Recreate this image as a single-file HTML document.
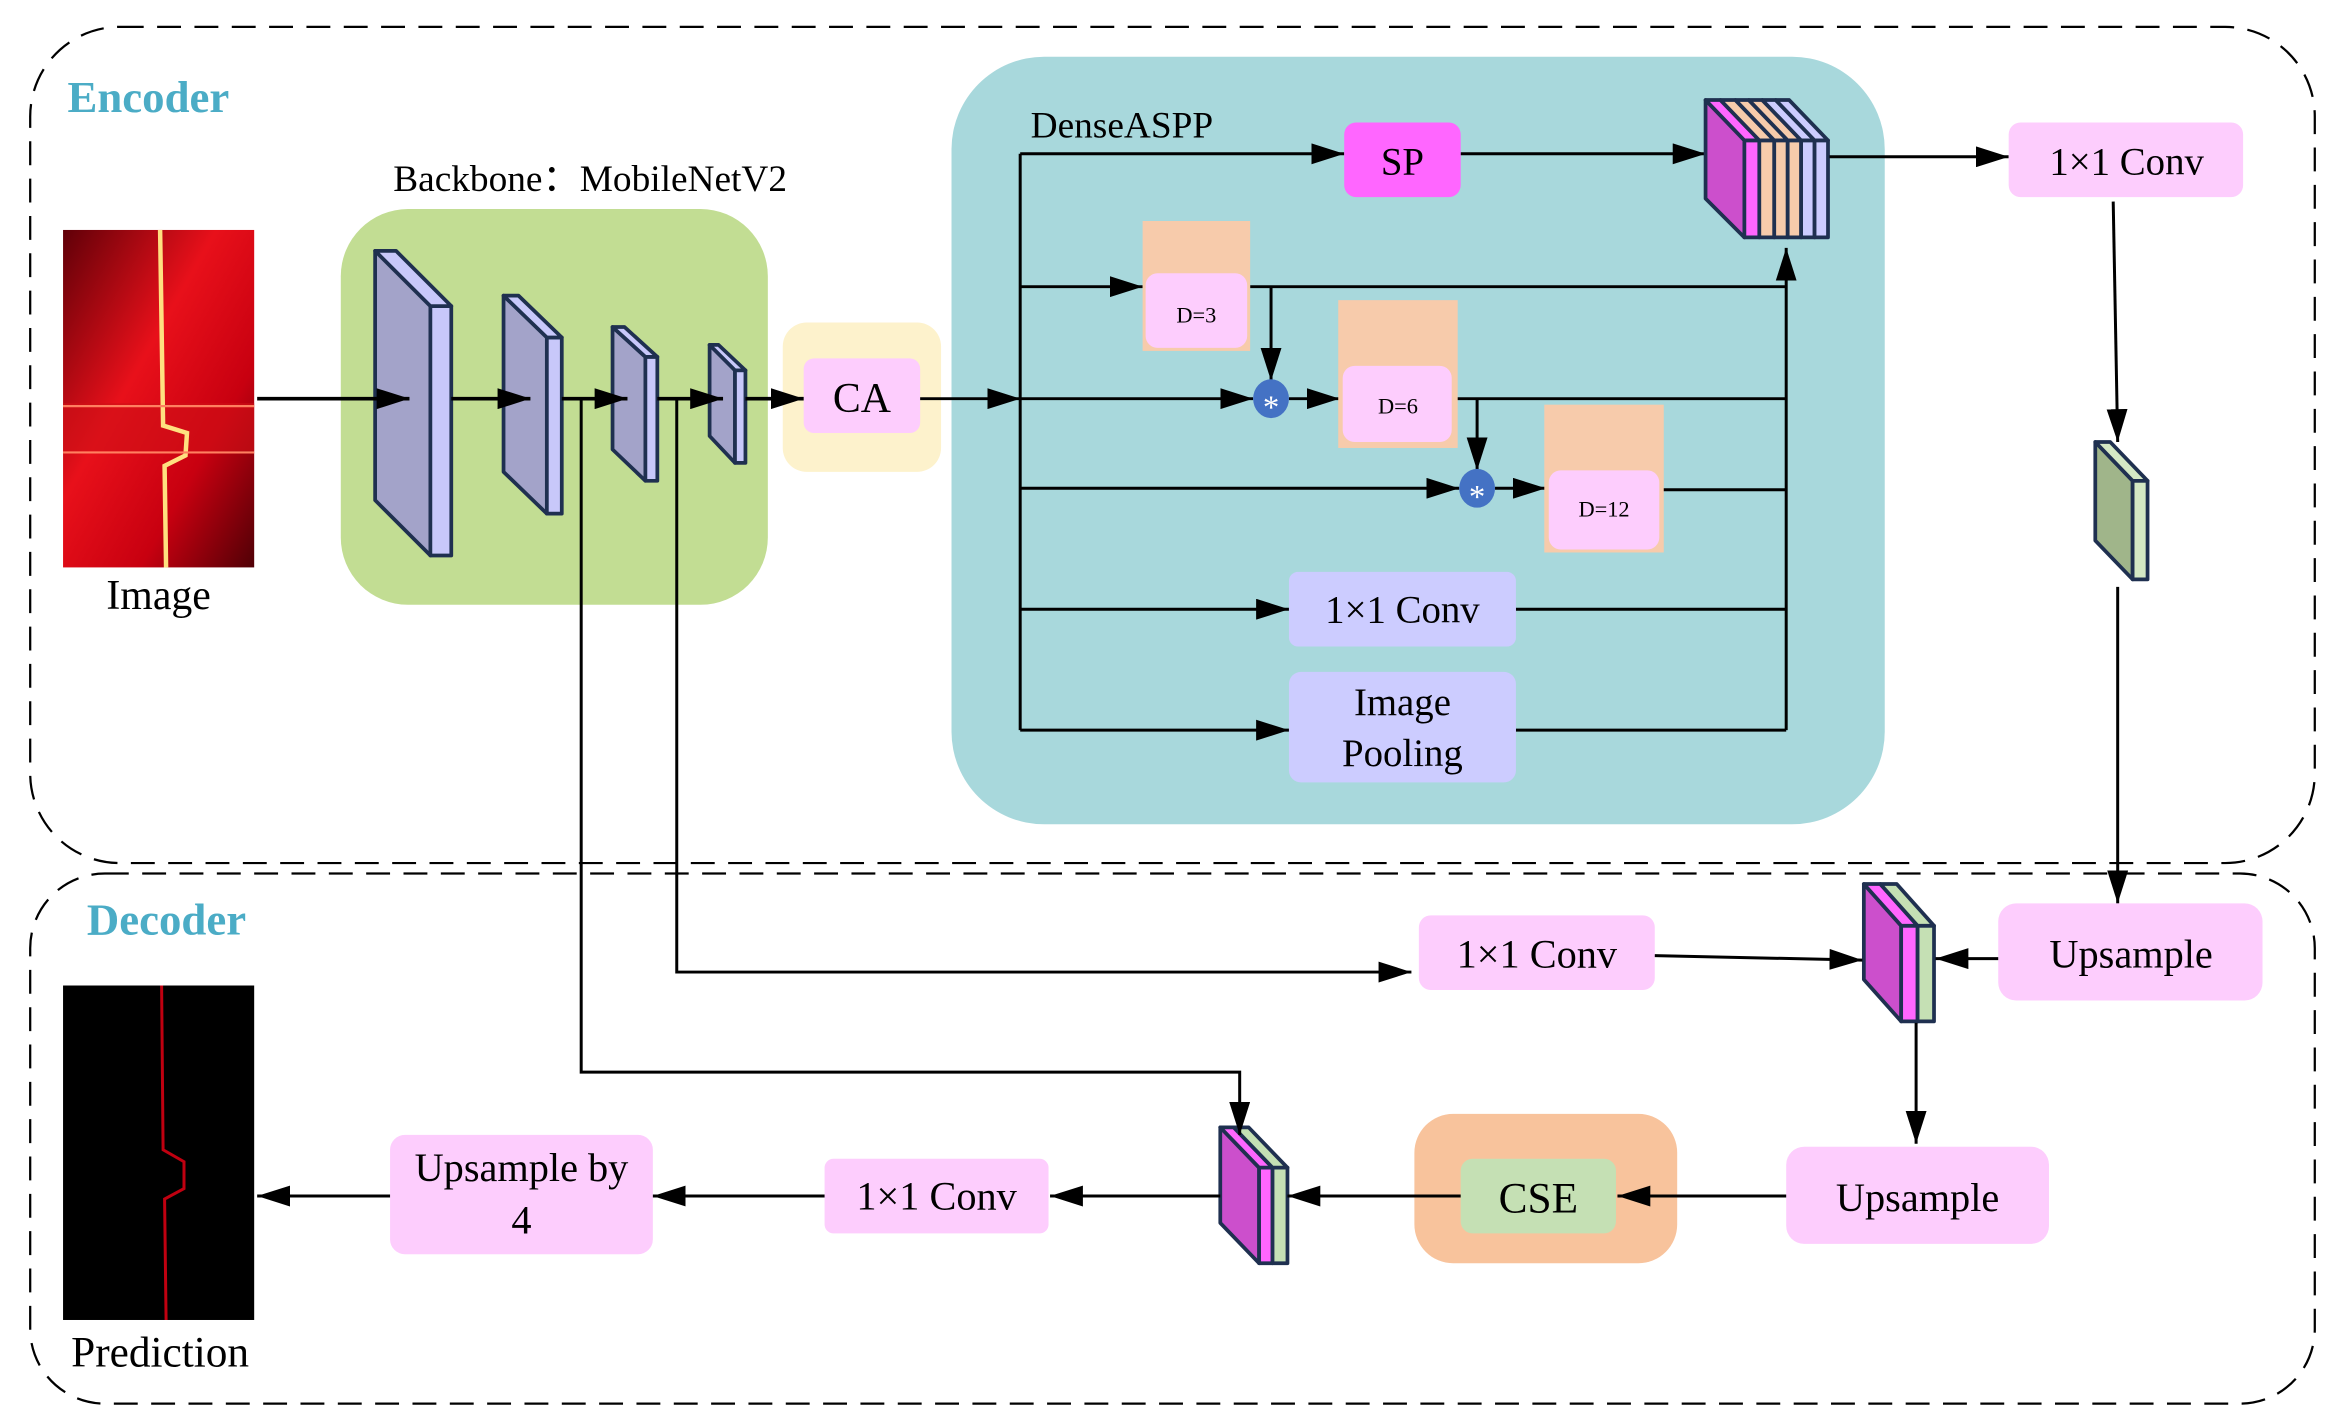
<!DOCTYPE html>
<html><head><meta charset="utf-8"><style>html,body{margin:0;padding:0;background:#fff}svg{display:block}</style></head>
<body>
<svg width="2342" height="1426" viewBox="0 0 1568 955" xmlns="http://www.w3.org/2000/svg" font-family="Liberation Serif, serif">
<defs>
<marker id="b" viewBox="0 0 10 10" refX="10" refY="5" markerWidth="22" markerHeight="14" orient="auto" markerUnits="userSpaceOnUse" preserveAspectRatio="none"><path d="M0,0L10,5L0,10z"/></marker>
<linearGradient id="rg" x1="0" y1="0" x2="1" y2="1"><stop offset="0" stop-color="#600008"/><stop offset=".4" stop-color="#e8101a"/><stop offset=".7" stop-color="#c80010"/><stop offset="1" stop-color="#500006"/></linearGradient>
</defs>
<rect x="20" y="18" width="1530" height="560" rx="60" fill="none" stroke="#000" stroke-width="1.5" stroke-dasharray="16,9"/>
<rect x="20" y="585" width="1530" height="355" rx="50" fill="none" stroke="#000" stroke-width="1.5" stroke-dasharray="16,9"/>
<text x="45" y="75" font-size="30" font-weight="bold" fill="#4bacc6">Encoder</text>
<text x="58" y="626" font-size="30" font-weight="bold" fill="#4bacc6">Decoder</text>

<rect x="42" y="154" width="128" height="226" fill="url(#rg)"/>
<rect x="42" y="270" width="128" height="32" fill="#d01018" opacity=".6"/>
<path d="M107,154 L109,285 L125,290 L124,305 L110,312 L111,380" stroke="#ffe080" stroke-width="3" fill="none"/>
<path d="M42,272 H170 M42,303 H170" stroke="#ff8060" stroke-width="1.5"/>
<text x="106" y="408" font-size="28" text-anchor="middle">Image</text>

<text x="395" y="128" font-size="25" text-anchor="middle">Backbone：MobileNetV2</text>
<rect x="228" y="140" width="286" height="265" rx="45" fill="#c2dd93"/>
<g stroke="#1f3050" stroke-width="2.5" stroke-linejoin="round">
<path d="M251,168 L288,205 L288,372 L251,335Z" fill="#a3a3c9"/><path d="M288,205H302V372H288Z" fill="#c8c8fa"/><path d="M251,168H265L302,205H288Z" fill="#c8c8fa"/>
<path d="M337,198 L366,226 L366,344 L337,316Z" fill="#a3a3c9"/><path d="M366,226H376V344H366Z" fill="#c8c8fa"/><path d="M337,198H347L376,226H366Z" fill="#c8c8fa"/>
<path d="M410,219 L432,239 L432,322 L410,301Z" fill="#a3a3c9"/><path d="M432,239H440V322H432Z" fill="#c8c8fa"/><path d="M410,219H418L440,239H432Z" fill="#c8c8fa"/>
<path d="M475,231 L492,248 L492,310 L475,292Z" fill="#a3a3c9"/><path d="M492,248H499V310H492Z" fill="#c8c8fa"/><path d="M475,231H481L499,248H492Z" fill="#c8c8fa"/>
</g>
<rect x="524" y="216" width="106" height="100" rx="16" fill="#fdf2cc"/>
<rect x="538" y="240" width="78" height="50" rx="7" fill="#fdcdfd"/>
<text x="577" y="276" font-size="28" text-anchor="middle">CA</text>
<g stroke="#000" stroke-width="2.5" fill="none" marker-end="url(#b)">
<line x1="172" y1="267" x2="274" y2="267"/><line x1="302" y1="267" x2="355" y2="267"/><line x1="376" y1="267" x2="420" y2="267"/><line x1="440" y1="267" x2="484" y2="267"/><line x1="499" y1="267" x2="538" y2="267"/>
</g>

<rect x="637" y="38" width="625" height="514" rx="62" fill="#a8d8dc"/>
<text x="690" y="92" font-size="25">DenseASPP</text>
<g stroke="#000" stroke-width="2" fill="none">
<line x1="616" y1="267" x2="683" y2="267" marker-end="url(#b)"/>
<line x1="683" y1="103" x2="683" y2="489"/>
<line x1="683" y1="103" x2="900" y2="103" marker-end="url(#b)"/>
<line x1="978" y1="103" x2="1142" y2="103" marker-end="url(#b)"/>
<line x1="683" y1="192" x2="765" y2="192" marker-end="url(#b)"/>
<line x1="837" y1="192" x2="1196" y2="192"/>
<line x1="851" y1="192" x2="851" y2="255" marker-end="url(#b)"/>
<line x1="683" y1="267" x2="839" y2="267" marker-end="url(#b)"/>
<line x1="863" y1="267" x2="897" y2="267" marker-end="url(#b)"/>
<line x1="972" y1="267" x2="1196" y2="267"/>
<line x1="989" y1="267" x2="989" y2="315" marker-end="url(#b)"/>
<line x1="683" y1="327" x2="977" y2="327" marker-end="url(#b)"/>
<line x1="1001" y1="327" x2="1035" y2="327" marker-end="url(#b)"/>
<line x1="1111" y1="328" x2="1196" y2="328"/>
<line x1="683" y1="408" x2="863" y2="408" marker-end="url(#b)"/>
<line x1="1015" y1="408" x2="1196" y2="408"/>
<line x1="683" y1="489" x2="863" y2="489" marker-end="url(#b)"/>
<line x1="1015" y1="489" x2="1196" y2="489"/>
<line x1="1196" y1="489" x2="1196" y2="166" marker-end="url(#b)"/>
</g>
<rect x="900" y="82" width="78" height="50" rx="8" fill="#ff66ff"/>
<text x="939" y="117" font-size="26" text-anchor="middle">SP</text>
<rect x="765" y="148" width="72" height="87" fill="#f7cbab"/><rect x="767" y="183" width="68" height="50" rx="8" fill="#fdcdfd"/>
<text x="801" y="216" font-size="15" text-anchor="middle">D=3</text>
<rect x="896" y="201" width="80" height="99" fill="#f7cbab"/><rect x="899" y="245" width="73" height="51" rx="8" fill="#fdcdfd"/>
<text x="936" y="277" font-size="15" text-anchor="middle">D=6</text>
<rect x="1034" y="271" width="80" height="99" fill="#f7cbab"/><rect x="1037" y="315" width="74" height="53" rx="8" fill="#fdcdfd"/>
<text x="1074" y="346" font-size="15" text-anchor="middle">D=12</text>
<g fill="#4472c4"><ellipse cx="851" cy="267" rx="12" ry="13"/><ellipse cx="989" cy="327" rx="12" ry="13"/></g>
<g fill="#fff" font-size="22" text-anchor="middle"><text x="851" y="280">*</text><text x="989" y="340">*</text></g>
<rect x="863" y="383" width="152" height="50" rx="6" fill="#ccccff"/>
<text x="939" y="417" font-size="26" text-anchor="middle">1×1 Conv</text>
<rect x="863" y="450" width="152" height="74" rx="8" fill="#ccccff"/>
<text x="939" y="479" font-size="26" text-anchor="middle">Image</text>
<text x="939" y="513" font-size="26" text-anchor="middle">Pooling</text>

<g stroke="#1f3050" stroke-width="2.5" stroke-linejoin="round">
<path d="M1142,67 L1168,94 L1168,159 L1142,133Z" fill="#cc4fcc"/>
<path d="M1168,94H1178V159H1168Z" fill="#ff66ff"/>
<path d="M1178,94H1188V159H1178Z" fill="#f7cbab"/>
<path d="M1188,94H1197V159H1188Z" fill="#f7cbab"/>
<path d="M1197,94H1206V159H1197Z" fill="#f7cbab"/>
<path d="M1206,94H1215V159H1206Z" fill="#ccccff"/>
<path d="M1215,94H1224V159H1215Z" fill="#ccccff"/>
<path d="M1142,67H1152L1178,94H1168Z" fill="#ff66ff"/>
<path d="M1152,67H1162L1188,94H1178Z" fill="#f7cbab"/>
<path d="M1162,67H1171L1197,94H1188Z" fill="#f7cbab"/>
<path d="M1171,67H1180L1206,94H1197Z" fill="#f7cbab"/>
<path d="M1180,67H1189L1215,94H1206Z" fill="#ccccff"/>
<path d="M1189,67H1198L1224,94H1215Z" fill="#ccccff"/>
</g>
<g stroke="#000" stroke-width="2" fill="none">
<line x1="1225" y1="105" x2="1345" y2="105" marker-end="url(#b)"/>
<line x1="1415" y1="135" x2="1418" y2="296" marker-end="url(#b)"/>
<line x1="1418" y1="393" x2="1418" y2="605" marker-end="url(#b)"/>
</g>
<rect x="1345" y="82" width="157" height="50" rx="8" fill="#fdcdfd"/>
<text x="1424" y="117" font-size="26" text-anchor="middle">1×1 Conv</text>
<g stroke="#1f3050" stroke-width="2.5" stroke-linejoin="round">
<path d="M1403,296 L1428,322 L1428,388 L1403,362Z" fill="#a0b58a"/>
<path d="M1428,322H1438V388H1428Z" fill="#d4e8c4"/>
<path d="M1403,296H1413L1438,322H1428Z" fill="#d4e8c4"/>
</g>

<rect x="1338" y="605" width="177" height="65" rx="12" fill="#fdcdfd"/>
<text x="1427" y="648" font-size="27" text-anchor="middle">Upsample</text>
<rect x="950" y="613" width="158" height="50" rx="8" fill="#fdcdfd"/>
<text x="1029" y="648" font-size="27" text-anchor="middle">1×1 Conv</text>
<g stroke="#1f3050" stroke-width="2.5" stroke-linejoin="round">
<path d="M1248,592 L1273,620 L1273,684 L1248,656Z" fill="#cc4fcc"/>
<path d="M1273,620H1284V684H1273Z" fill="#ff66ff"/><path d="M1284,620H1295V684H1284Z" fill="#c5e0b4"/>
<path d="M1248,592H1259L1284,620H1273Z" fill="#ff66ff"/><path d="M1259,592H1270L1295,620H1284Z" fill="#c5e0b4"/>
<path d="M817,755 L843,782 L843,846 L817,819Z" fill="#cc4fcc"/>
<path d="M843,782H852V846H843Z" fill="#ff66ff"/><path d="M852,782H862V846H852Z" fill="#c5e0b4"/>
<path d="M817,755H826L852,782H843Z" fill="#ff66ff"/><path d="M826,755H836L862,782H852Z" fill="#c5e0b4"/>
</g>
<rect x="1196" y="768" width="176" height="65" rx="12" fill="#fdcdfd"/>
<text x="1284" y="811" font-size="27" text-anchor="middle">Upsample</text>
<rect x="947" y="746" width="176" height="100" rx="26" fill="#f8c39c"/>
<rect x="978" y="776" width="104" height="50" rx="8" fill="#c5e0b4"/>
<text x="1030" y="812" font-size="29" text-anchor="middle">CSE</text>
<rect x="552" y="776" width="150" height="50" rx="6" fill="#fdcdfd"/>
<text x="627" y="810" font-size="27" text-anchor="middle">1×1 Conv</text>
<rect x="261" y="760" width="176" height="80" rx="10" fill="#fdcdfd"/>
<text x="349" y="791" font-size="27" text-anchor="middle">Upsample by</text>
<text x="349" y="826" font-size="27" text-anchor="middle">4</text>
<g stroke="#000" stroke-width="2" fill="none">
<line x1="1338" y1="642" x2="1296" y2="642" marker-end="url(#b)"/>
<line x1="1108" y1="640" x2="1247" y2="643" marker-end="url(#b)"/>
<polyline points="453,267 453,651 945,651" marker-end="url(#b)"/>
<line x1="1283" y1="685" x2="1283" y2="766" marker-end="url(#b)"/>
<line x1="1196" y1="801" x2="1083" y2="801" marker-end="url(#b)"/>
<line x1="978" y1="801" x2="862" y2="801" marker-end="url(#b)"/>
<polyline points="389,267 389,718 830,718 830,760" marker-end="url(#b)"/>
<line x1="817" y1="801" x2="703" y2="801" marker-end="url(#b)"/>
<line x1="552" y1="801" x2="437" y2="801" marker-end="url(#b)"/>
<line x1="261" y1="801" x2="172" y2="801" marker-end="url(#b)"/>
</g>
<rect x="42" y="660" width="128" height="224" fill="#000"/>
<path d="M108,660 L109,770 L123,778 L123,796 L110,803 L111,884" stroke="#c00010" stroke-width="2" fill="none"/>
<text x="107" y="915" font-size="29" text-anchor="middle">Prediction</text>
</svg>
</body></html>
